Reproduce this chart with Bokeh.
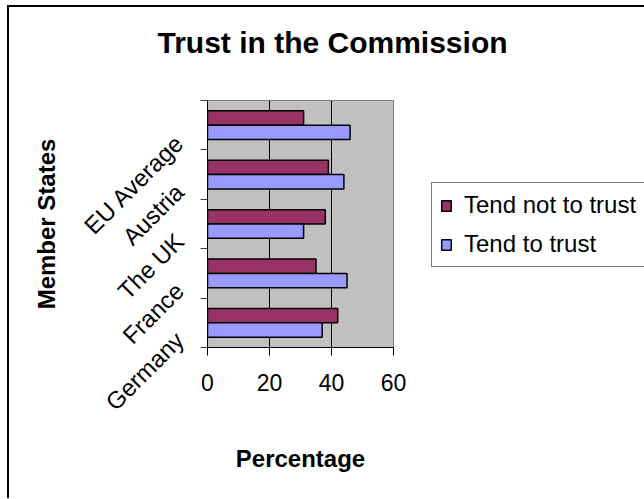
import math
from bokeh.plotting import figure
from bokeh.models import FixedTicker, Legend, LegendItem, ColumnDataSource, Range1d, Title
from bokeh.embed import file_html
from bokeh.resources import INLINE

# ---- data ----
states = ["Germany", "France", "The UK", "Austria", "EU Average"]
tend_not_to_trust = [42, 35, 38, 39, 31]
tend_to_trust = [37, 45, 31, 44, 46]
x_ticks = [0, 20, 40, 60]

FONT = "Liberation Sans"
BAR_H = 0.29
LABEL_SHIFT = 0.23   # category labels sit just above the lower boundary tick

centers = [i + 0.5 for i in range(len(states))]
src = ColumnDataSource(dict(
    y_not=[c + BAR_H / 2 for c in centers],
    y_trust=[c - BAR_H / 2 for c in centers],
    not_trust=tend_not_to_trust,
    trust=tend_to_trust,
))

p = figure(frame_width=186, frame_height=247,
           x_range=Range1d(0, 60), y_range=Range1d(0, len(states)),
           output_backend="svg", toolbar_location=None,
           min_border_left=198, min_border_right=250, min_border_top=93, min_border_bottom=151)
p.styles = {"margin-left": "7px", "margin-top": "5px",
            "border-left": "2px solid black", "border-top": "2px solid black"}

p.background_fill_color = "#C0C0C0"
p.border_fill_color = "white"
p.outline_line_color = "#808080"
p.outline_line_width = 1

# spacer between the frame and the title
p.add_layout(Title(text=" ", text_font_size="2px", standoff=33), "above")

# title
p.title.text = "Trust in the Commission"
p.title.text_font = FONT
p.title.text_font_size = "30px"
p.title.text_font_style = "bold"
p.title.text_color = "black"
p.title.align = "left"
p.title.offset = -50
p.title.standoff = 10

# bars
r_not = p.hbar(y="y_not", right="not_trust", left=0, height=BAR_H, source=src,
               fill_color="#993366", line_color="black", line_width=1.5)
r_trust = p.hbar(y="y_trust", right="trust", left=0, height=BAR_H, source=src,
                 fill_color="#9999FF", line_color="black", line_width=1.5)

# x axis
xa = p.xaxis[0]
xa.ticker = FixedTicker(ticks=x_ticks)
xa.major_tick_out = 8
xa.major_tick_in = 0
xa.minor_tick_out = 0
xa.minor_tick_in = 0
xa.major_label_standoff = 18
xa.major_label_text_font = FONT
xa.major_label_text_font_size = "23px"
xa.major_label_text_color = "black"
xa.axis_line_color = "black"
xa.major_tick_line_color = "black"
xa.axis_label = "Percentage"
xa.axis_label_text_font = FONT
xa.axis_label_text_font_size = "24px"
xa.axis_label_text_font_style = "bold"
xa.axis_label_text_color = "black"
xa.axis_label_standoff = 51

# y axis: labels at shifted major ticks, tick marks at category boundaries (minor ticks)
ya = p.yaxis[0]
label_pos = [i + LABEL_SHIFT for i in range(len(states))]
boundaries = list(range(len(states) + 1))
ya.ticker = FixedTicker(ticks=label_pos, minor_ticks=boundaries)
ya.major_label_overrides = {pos: s for pos, s in zip(label_pos, states)}
ya.major_label_orientation = math.pi / 4
ya.major_tick_out = 0
ya.major_tick_in = 0
ya.minor_tick_out = 7
ya.minor_tick_in = 0
ya.minor_tick_line_color = "#404040"
ya.minor_tick_line_width = 1
ya.major_label_standoff = 21
ya.major_label_text_font = FONT
ya.major_label_text_font_size = "24px"
ya.major_label_text_color = "black"
ya.axis_line_color = "black"
ya.axis_label = "Member States"
ya.axis_label_text_font = FONT
ya.axis_label_text_font_size = "24px"
ya.axis_label_text_font_style = "bold"
ya.axis_label_text_color = "black"
ya.axis_label_standoff = 6

# grid
p.ygrid.visible = False
p.xgrid.grid_line_color = "black"
p.xgrid.grid_line_alpha = 1.0
p.xgrid.grid_line_width = 1

# legend
legend = Legend(items=[LegendItem(label="Tend not to trust", renderers=[r_not]),
                       LegendItem(label="Tend to trust", renderers=[r_trust])],
                location=(38, 80))
legend.label_text_font = FONT
legend.label_text_font_size = "24px"
legend.label_text_color = "black"
legend.glyph_width = 12
legend.glyph_height = 13
legend.label_standoff = 12
legend.padding = 8
legend.spacing = 11
legend.margin = 0
legend.border_line_color = "black"
legend.border_line_width = 1
legend.background_fill_color = "white"
legend.background_fill_alpha = 1.0
p.add_layout(legend, "right")

open("out.html", "w").write(file_html(p, INLINE))
